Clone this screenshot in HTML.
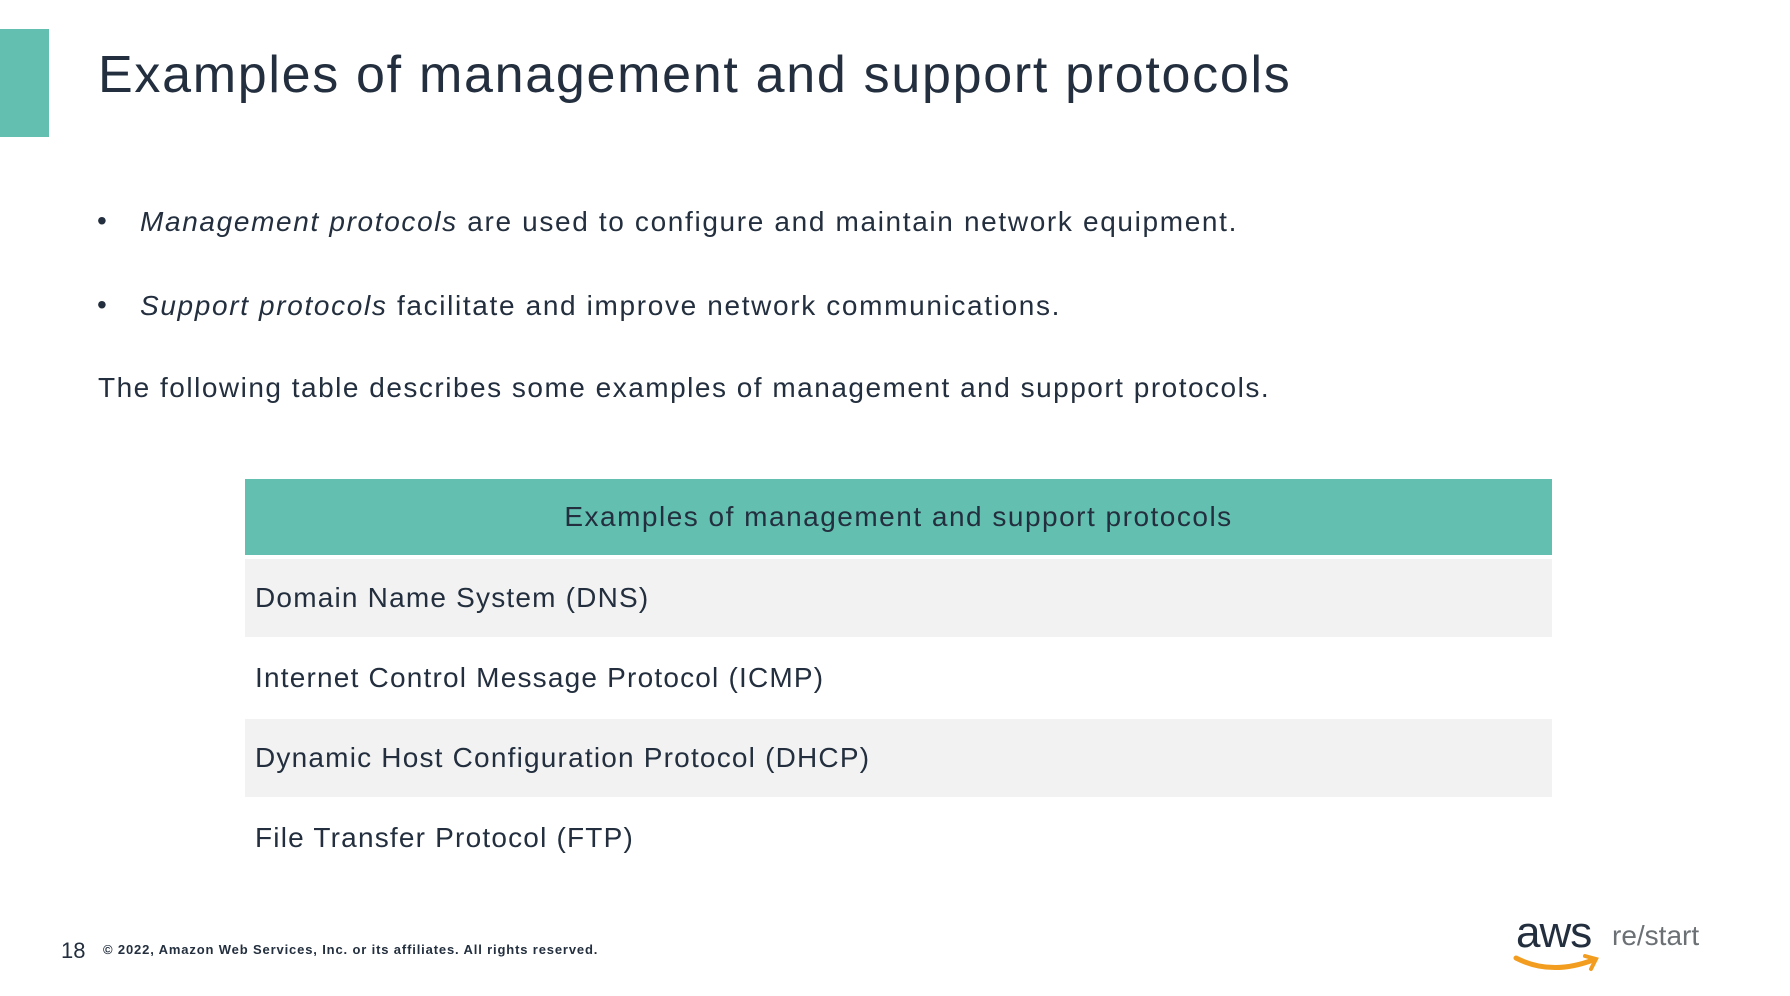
<!DOCTYPE html>
<html><head><meta charset="utf-8"><style>
html,body{margin:0;padding:0;background:#fff;}
body{width:1790px;height:996px;position:relative;overflow:hidden;font-family:"Liberation Sans",sans-serif;color:#232f3e;}
.a{position:absolute;white-space:nowrap;}
.row{position:absolute;left:245px;width:1307px;font-size:28px;line-height:1;display:flex;align-items:center;box-sizing:border-box;padding-left:10px;color:#232f3e;letter-spacing:1.2px;}
</style></head><body>
<div class="a" style="left:0;top:29px;width:49px;height:108px;background:#63bfb0"></div>
<div class="a" style="left:98px;top:45px;font-size:52px;letter-spacing:1.7px;color:#232f3e">Examples of management and support protocols</div>
<div class="a" style="left:97px;top:205px;font-size:28px">•</div>
<div class="a" style="left:140px;top:206px;font-size:28px;letter-spacing:1.65px"><i>Management protocols</i> are used to configure and maintain network equipment.</div>
<div class="a" style="left:97px;top:289px;font-size:28px">•</div>
<div class="a" style="left:140px;top:290px;font-size:28px;letter-spacing:1.65px"><i>Support protocols</i> facilitate and improve network communications.</div>
<div class="a" style="left:98px;top:372px;font-size:28px;letter-spacing:1.5px">The following table describes some examples of management and support protocols.</div>
<div class="row" style="top:479px;height:76px;background:#63bfb0;justify-content:center;padding-left:0;letter-spacing:1.5px">Examples of management and support protocols</div>
<div class="row" style="top:559px;height:78px;background:#f2f2f2">Domain Name System (DNS)</div>
<div class="row" style="top:637px;height:82px;">Internet Control Message Protocol (ICMP)</div>
<div class="row" style="top:719px;height:78px;background:#f2f2f2">Dynamic Host Configuration Protocol (DHCP)</div>
<div class="row" style="top:797px;height:81px;">File Transfer Protocol (FTP)</div>
<div class="a" style="left:61px;top:938px;font-size:22px">18</div>
<div class="a" style="left:103px;top:942px;font-size:13px;font-weight:bold;letter-spacing:0.85px">© 2022, Amazon Web Services, Inc. or its affiliates. All rights reserved.</div>
<div class="a" style="left:1516px;top:908px;font-size:44px;color:#232f3e;letter-spacing:-1px">aws</div>
<svg class="a" style="left:1511px;top:950px" width="95" height="30" viewBox="0 0 95 30"><path d="M5 8 Q40 26 82 10" stroke="#f29d1f" stroke-width="5" fill="none" stroke-linecap="round"/><path d="M74 6 L85 9 L80 19" stroke="#f29d1f" stroke-width="4" fill="none" stroke-linecap="round"/></svg>
<div class="a" style="left:1612px;top:920px;font-size:28px;color:#6b7075">re/start</div>
</body></html>
